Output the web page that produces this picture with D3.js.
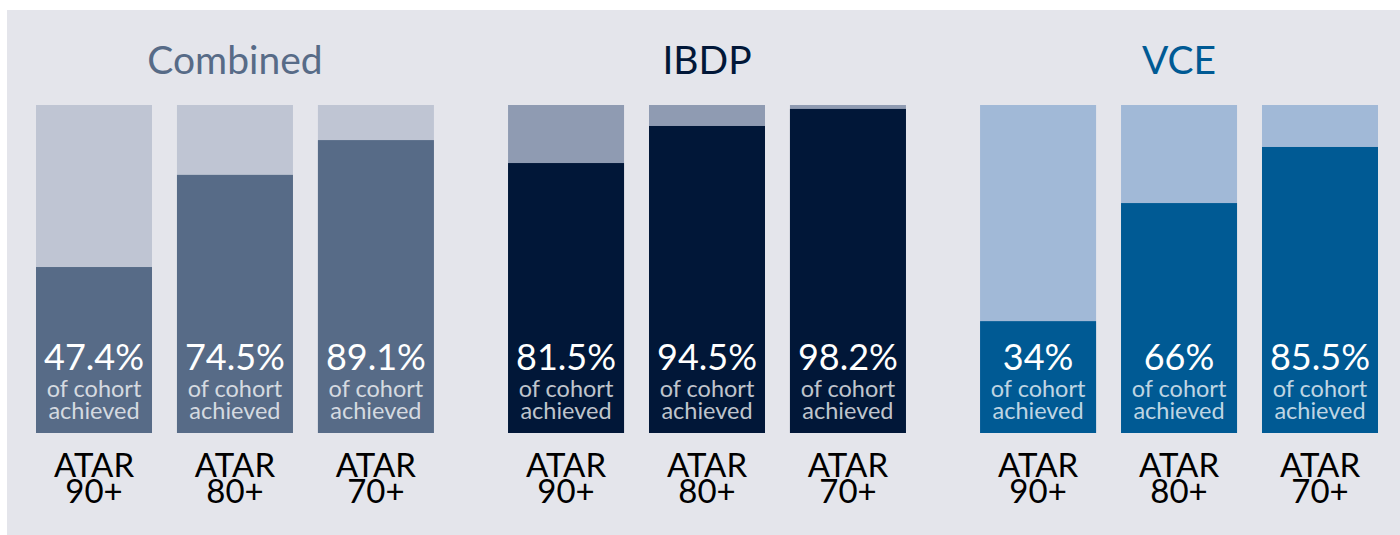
<!DOCTYPE html>
<meta charset="utf-8">
<head>
    <title>ATAR results</title>
    <script src="https://d3js.org/d3.v7.min.js"></script>
</head>
<style type="text/css">
body {
    margin: 0;
    background: #ffffff;
}
svg text {
    font-family: "Lato", "Open Sans", sans-serif;
}
</style>
<body>
    <svg id="chart" width="1400" height="535"></svg>

    <script type="text/javascript">
        // data
        var programmes = ["Combined", "IBDP", "VCE"];
        var thresholds = ["90+", "80+", "70+"];
        var labelCombined = ["47.4%", "74.5%", "89.1%"];
        var labelIBDP = ["81.5%", "94.5%", "98.2%"];
        var labelVCE = ["34%", "66%", "85.5%"];
        // share of the bar filled, as drawn in the picture
        var fillCombined = [0.506, 0.787, 0.893];
        var fillIBDP = [0.823, 0.936, 0.988];
        var fillVCE = [0.341, 0.701, 0.872];

        var labels = [labelCombined, labelIBDP, labelVCE];
        var fills = [fillCombined, fillIBDP, fillVCE];

        var colours = {
            Combined: { dark: "#576b87", light: "#bfc5d3", title: "#576b87" },
            IBDP: { dark: "#011738", light: "#8f9bb2", title: "#011738" },
            VCE: { dark: "#005a94", light: "#a1b9d7", title: "#005a94" }
        };

        var svg = d3.select("#chart");

        svg.append("rect")
            .attr("x", 7).attr("y", 10)
            .attr("width", 1393).attr("height", 525)
            .attr("fill", "#e4e5eb");

        var groupX = d3.scaleBand()
            .domain(programmes)
            .range([36, 1378])
            .paddingInner(0.157);

        var barX = d3.scaleBand()
            .domain(thresholds)
            .range([0, groupX.bandwidth()])
            .paddingInner(0.177);

        var y = d3.scaleLinear().domain([0, 1]).range([433, 105]);

        programmes.forEach(function(p, i) {
            var g = svg.append("g")
                .attr("transform", "translate(" + groupX(p) + ",0)");
            var c = colours[p];

            g.append("text")
                .attr("x", groupX.bandwidth() / 2)
                .attr("y", 74)
                .attr("text-anchor", "middle")
                .style("font-size", "39px")
                .attr("fill", c.title)
                .text(p);

            var rows = thresholds.map(function(t, j) {
                return { t: t, label: labels[i][j], v: fills[i][j] };
            });

            var bar = g.selectAll(".bar")
                .data(rows)
                .enter().append("g")
                .attr("class", "bar")
                .attr("transform", function(d) { return "translate(" + barX(d.t) + ",0)"; });

            bar.append("rect")
                .attr("y", y(1))
                .attr("width", barX.bandwidth())
                .attr("height", y(0) - y(1))
                .attr("fill", c.light);

            bar.append("rect")
                .attr("y", function(d) { return y(d.v); })
                .attr("width", barX.bandwidth())
                .attr("height", function(d) { return y(0) - y(d.v); })
                .attr("fill", c.dark);

            var cx = barX.bandwidth() / 2;

            bar.append("text")
                .attr("x", cx).attr("y", y(0) - 63)
                .attr("text-anchor", "middle")
                .style("font-size", "36px")
                .attr("fill", "#ffffff")
                .text(function(d) { return d.label; });

            // two lines in one text element
            var sub = bar.append("text")
                .attr("text-anchor", "middle")
                .style("font-size", "23.5px")
                .attr("fill", "#ffffff")
                .attr("fill-opacity", 0.75);
            sub.append("tspan").attr("x", cx).attr("y", y(0) - 36).text("of cohort");
            sub.append("tspan").attr("x", cx).attr("y", y(0) - 14).text("achieved");

            var cat = bar.append("text")
                .attr("text-anchor", "middle")
                .style("font-size", "33px")
                .attr("fill", "#000000");
            cat.append("tspan").attr("x", cx).attr("y", 477).text("ATAR");
            cat.append("tspan").attr("x", cx).attr("y", 503).text(function(d) { return d.t; });
        });
    </script>
</body>
